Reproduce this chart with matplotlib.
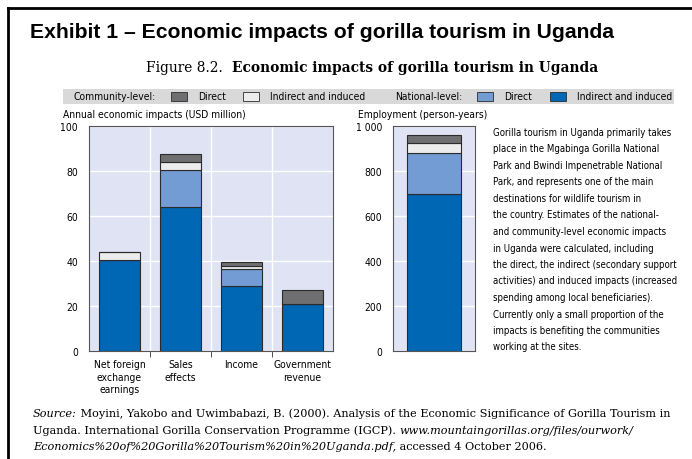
import numpy as np
import matplotlib
matplotlib.use('Agg')
import matplotlib.pyplot as plt
from matplotlib.patches import Rectangle
from matplotlib.lines import Line2D

# Data
categories = ['Net foreign\nexchange\nearnings', 'Sales\neffects', 'Income', 'Government\nrevenue']
nat_indirect = [40.5, 64.0, 29.0, 20.7]
nat_direct = [0.0, 16.5, 7.3, 0.0]
com_indirect = [3.5, 3.5, 1.3, 0.0]
com_direct = [0.0, 3.5, 2.0, 6.4]

emp_nat_indirect = [700]
emp_nat_direct = [180]
emp_com_indirect = [45]
emp_com_direct = [37]

left_ticks = [0, 20, 40, 60, 80, 100]
right_ticks = [0, 200, 400, 600, 800, 1000]
right_ticklabels = ['0', '200', '400', '600', '800', '1 000']

note_lines = ['Gorilla tourism in Uganda primarily takes',
              'place in the Mgabinga Gorilla National',
              'Park and Bwindi Impenetrable National',
              'Park, and represents one of the main',
              'destinations for wildlife tourism in',
              'the country. Estimates of the national-',
              'and community-level economic impacts',
              'in Uganda were calculated, including',
              'the direct, the indirect (secondary support',
              'activities) and induced impacts (increased',
              'spending among local beneficiaries).',
              'Currently only a small proportion of the',
              'impacts is benefiting the communities',
              'working at the sites.']

# colours
c_nat_ind = '#0067b4'
c_nat_dir = '#739bd4'
c_com_ind = '#ececec'
c_com_dir = '#6f6f72'
bg = '#dfe3f3'
edge = '#2b2b2b'

# condensed sans for the chart texts, serif for the figure title and source
narrow = dict(family='DejaVu Sans', fontstretch='condensed')
serif = ['DejaVu Serif']

W, H = 692, 460
fig = plt.figure(figsize=(W / 100, H / 100), dpi=100)


def fx(px):
    return px / W


def fy(py):
    return 1 - py / H


def rich_line(x, y, parts, size, ha='left'):
    # draw text pieces one after another on the same baseline
    renderer = fig.canvas.get_renderer()
    texts = []
    cur = x
    for s, style, weight in parts:
        t = fig.text(cur, y, s, fontsize=size, family=serif, style=style,
                     weight=weight, va='baseline', ha='left')
        bb = t.get_window_extent(renderer=renderer)
        cur = cur + bb.width / W
        texts.append(t)
    if ha == 'center':
        shift = (cur - x) / 2
        for t in texts:
            t.set_x(t.get_position()[0] - shift)


# frame lines on top and left
fig.add_artist(Line2D([fx(8), 1], [fy(9), fy(9)], color='black', lw=2))
fig.add_artist(Line2D([fx(8), fx(8)], [fy(9), 0], color='black', lw=2))

fig.text(fx(30), fy(33), 'Exhibit 1 \u2013 Economic impacts of gorilla tourism in Uganda',
         fontsize=15.2, weight='bold', family=['Liberation Sans', 'DejaVu Sans'], va='center')

rich_line(fx(372), fy(72), [('Figure 8.2.  ', 'normal', 'normal'),
                            ('Economic impacts of gorilla tourism in Uganda', 'normal', 'bold')],
          9.9, ha='center')

# legend band
fig.add_artist(Rectangle((fx(63), fy(105)), fx(674) - fx(63), fy(90) - fy(105),
                         transform=fig.transFigure, color='#d9d9d9', lw=0))
ly = fy(97.5)
lsize = 7.4
fig.text(fx(73), ly, 'Community-level:', fontsize=lsize, va='center', **narrow)
fig.text(fx(395), ly, 'National-level:', fontsize=lsize, va='center', **narrow)
leg = [(171, c_com_dir, 'Direct'), (243, c_com_ind, 'Indirect and induced'),
       (477, c_nat_dir, 'Direct'), (550, c_nat_ind, 'Indirect and induced')]
for x0, col, lab in leg:
    fig.add_artist(Rectangle((fx(x0), fy(102)), fx(16), fy(93) - fy(102),
                             transform=fig.transFigure, facecolor=col,
                             edgecolor=edge, lw=0.6))
    fig.text(fx(x0 + 27), ly, lab, fontsize=lsize, va='center', **narrow)

fig.text(fx(63), fy(115), 'Annual economic impacts (USD million)', fontsize=lsize,
         va='center', **narrow)
fig.text(fx(358), fy(115), 'Employment (person-years)', fontsize=lsize,
         va='center', **narrow)


def style_axes(ax):
    ax.set_facecolor(bg)
    for s in ax.spines.values():
        s.set_color('#555555')
        s.set_linewidth(0.8)
    ax.grid(axis='y', color='white', lw=1)
    ax.set_axisbelow(True)
    ax.tick_params(axis='y', length=0, pad=8, labelsize=lsize)
    for lab in ax.get_yticklabels() + ax.get_xticklabels():
        lab.set_family('DejaVu Sans')
        lab.set_fontstretch('condensed')


# left chart: annual economic impacts
ax1 = fig.add_axes([fx(89), fy(352), fx(333) - fx(89), fy(127) - fy(352)])
x = np.arange(len(categories))
w = 0.66
b = np.zeros(len(categories))
for vals, col in [(nat_indirect, c_nat_ind), (nat_direct, c_nat_dir),
                  (com_indirect, c_com_ind), (com_direct, c_com_dir)]:
    vals = np.array(vals)
    ax1.bar(x, vals, w, bottom=b, color=col, edgecolor=edge, lw=0.8)
    b = b + vals
ax1.set_xlim(-0.5, len(categories) - 0.5)
ax1.set_ylim(0, 100)
ax1.set_yticks(left_ticks)
ax1.set_xticks(x)
ax1.set_xticklabels(categories, fontsize=lsize, linespacing=1.3)
ax1.set_xticks(np.arange(0.5, len(categories) - 1, 1), minor=True)
ax1.tick_params(axis='x', which='major', length=0, pad=6)
ax1.tick_params(axis='x', which='minor', length=4, color='#333333', direction='out')
ax1.grid(axis='x', which='minor', color='white', lw=1)
style_axes(ax1)

# right chart: employment
ax2 = fig.add_axes([fx(393), fy(352), fx(475) - fx(393), fy(127) - fy(352)])
b = np.zeros(1)
for vals, col in [(emp_nat_indirect, c_nat_ind), (emp_nat_direct, c_nat_dir),
                  (emp_com_indirect, c_com_ind), (emp_com_direct, c_com_dir)]:
    vals = np.array(vals)
    ax2.bar([0], vals, 0.67, bottom=b, color=col, edgecolor=edge, lw=0.8)
    b = b + vals
ax2.set_xlim(-0.5, 0.5)
ax2.set_ylim(0, 1000)
ax2.set_xticks([])
ax2.set_yticks(right_ticks)
ax2.set_yticklabels(right_ticklabels)
style_axes(ax2)

# note text on the right
for i, line in enumerate(note_lines):
    fig.text(fx(493), fy(133 + i * 16.5), line, fontsize=6.9, va='center', **narrow)

# source
ssize = 8.15
rich_line(fx(33), fy(417), [('Source:', 'italic', 'normal'),
                            (' Moyini, Yakobo and Uwimbabazi, B. (2000). Analysis of the Economic Significance of Gorilla Tourism in',
                             'normal', 'normal')], ssize)
rich_line(fx(33), fy(434), [('Uganda. International Gorilla Conservation Programme (IGCP). ', 'normal', 'normal'),
                            ('www.mountaingorillas.org/files/ourwork/', 'italic', 'normal')], ssize)
rich_line(fx(33), fy(450), [('Economics%20of%20Gorilla%20Tourism%20in%20Uganda.pdf,', 'italic', 'normal'),
                            (' accessed 4 October 2006.', 'normal', 'normal')], ssize)

fig.savefig('out.png', dpi=100)
